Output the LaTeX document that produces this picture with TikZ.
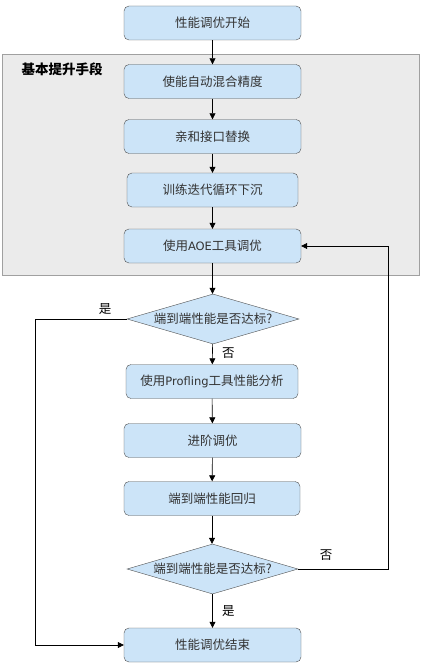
\documentclass[tikz,border=0pt]{standalone}
\usepackage{fontspec}
\setmainfont{Liberation Sans}
\newfontfamily\cjk{Noto Sans CJK SC}
\newfontfamily\lat{DejaVu Sans}
\usetikzlibrary{positioning,arrows.meta,shapes.geometric,calc}
\definecolor{boxfill}{HTML}{CCE4F8}
\definecolor{boxline}{HTML}{505050}
\definecolor{groupfill}{HTML}{EBEBEB}
\definecolor{groupline}{HTML}{A0A0A0}
\definecolor{txt}{HTML}{333333}

\begin{document}
\begin{tikzpicture}[
  x=1pt, y=-1pt,
  font=\cjk\fontsize{12.5}{15}\selectfont,
  stepbox/.style={draw=boxline, fill=boxfill, rounded corners=5pt, minimum width=177pt, minimum height=34pt, inner sep=0pt, text=txt},
  dec/.style={draw=boxline, fill=boxfill, diamond, minimum width=172pt, minimum height=50pt, inner sep=0pt},
  lbl/.style={font=\cjk\fontsize{12.5}{15}\selectfont, text=black},
  arr/.style={-{Triangle[width=6pt,length=6pt]}, semithick},
]
\useasboundingbox (0,0) rectangle (422,669);
% ---------- 基本提升手段 ----------
\draw[fill=groupfill, draw=groupline] (2,54) rectangle (419,275);
\node[anchor=west, font=\cjk\bfseries\fontsize{13.5}{16}\selectfont] (grp) at (18,69) {基本提升手段};

% ---------- 主流程 ----------
\node[stepbox] (start) at (212.5,23) {性能调优开始};
\node[stepbox] (amp) at (212.5,81.5) {使能自动混合精度};
\node[stepbox] (aff) at (212.5,136.5) {亲和接口替换};
\node[stepbox, minimum width=171pt] (sink) at (212.5,190) {训练迭代循环下沉};
\node[stepbox] (aoe) at (212.5,246) {使用{\lat\fontsize{11.5}{15}\selectfont AOE}工具调优};
\node[dec] (chk1) at (213,319) {};
\node[text=txt] at (chk1) {端到端性能是否达标?};
\node[stepbox, minimum width=172pt] (prof) at (212,381.5) {使用{\lat\fontsize{11.5}{15}\selectfont Profling}工具性能分析};
\node[stepbox] (adv) at (212.5,440.5) {进阶调优};
\node[stepbox, minimum width=176pt] (reg) at (212,498.5) {端到端性能回归};
\node[dec, minimum width=171pt] (chk2) at (212.5,569) {};
\node[text=txt] at (chk2) {端到端性能是否达标?};
\node[stepbox] (stop) at (212.5,645) {性能调优结束};

\draw[arr] (start) -- (amp);
\draw[arr] (amp) -- (aff);
\draw[arr] (aff) -- (sink);
\draw[arr] (sink) -- (aoe);
\draw[arr] (aoe.south) -- (aoe.south |- chk1.north);
\draw[arr] (chk1) -- (prof) node[lbl, pos=0.45, right=6pt] {否};
\draw[arr] (prof) -- (adv);
\draw[arr] (adv) -- (reg);
\draw[arr] (reg.south) -- (reg.south |- chk2.north);
\draw[arr] (chk2) -- (stop) node[lbl, pos=0.5, right=6pt] {是};

% ---------- 回路 ----------
\coordinate (yl) at (35,319);
\coordinate (yr) at (388,569);
\draw[arr] (chk1.west) -- (yl) |- (stop.west);
\node[lbl] (yes1) at (105,309) {是};
\draw[arr] (chk2.east) -- (yr) |- (aoe.east);
\node[lbl] (no2) at (326,555) {否};
\end{tikzpicture}
\end{document}
